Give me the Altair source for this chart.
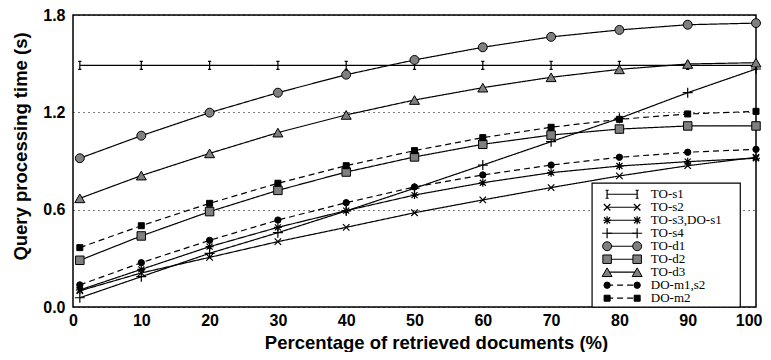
import altair as alt
import pandas as pd

# ---- data ----
x_vals = [1, 10, 20, 30, 40, 50, 60, 70, 80, 90, 100]
series_names = ["TO-s1", "TO-s2", "TO-s3,DO-s1", "TO-s4", "TO-d1", "TO-d2", "TO-d3", "DO-m1,s2", "DO-m2"]
to_s1 = [1.49, 1.49, 1.49, 1.49, 1.49, 1.49, 1.49, 1.49, 1.49, 1.49, 1.49]
to_s2 = [0.10, 0.21, 0.306, 0.403, 0.491, 0.581, 0.66, 0.736, 0.808, 0.871, 0.923]
to_s3 = [0.105, 0.232, 0.372, 0.491, 0.594, 0.69, 0.766, 0.828, 0.869, 0.896, 0.917]
to_s4 = [0.057, 0.187, 0.331, 0.458, 0.592, 0.732, 0.875, 1.019, 1.163, 1.321, 1.467]
to_d1 = [0.917, 1.056, 1.198, 1.321, 1.432, 1.523, 1.601, 1.665, 1.708, 1.74, 1.75]
to_d2 = [0.288, 0.438, 0.588, 0.719, 0.832, 0.925, 1.003, 1.06, 1.097, 1.116, 1.116]
to_d3 = [0.67, 0.81, 0.947, 1.075, 1.184, 1.276, 1.352, 1.416, 1.465, 1.498, 1.506]
do_m1 = [0.136, 0.273, 0.411, 0.536, 0.643, 0.74, 0.814, 0.875, 0.923, 0.954, 0.972]
do_m2 = [0.366, 0.501, 0.639, 0.763, 0.871, 0.964, 1.044, 1.108, 1.157, 1.19, 1.206]
all_values = [to_s1, to_s2, to_s3, to_s4, to_d1, to_d2, to_d3, do_m1, do_m2]

y_ticks = [0.0, 0.6, 1.2, 1.8]
x_ticks = [0, 10, 20, 30, 40, 50, 60, 70, 80, 90, 100]

# ---- styles ----
IBEAM = "M0,-1L0,1M-0.4,-1L0.4,-1M-0.4,1L0.4,1"
XMARK = "M-1,-1L1,1M-1,1L1,-1"
ASTER = "M-1,0L1,0M0,-1L0,1M-0.75,-0.75L0.75,0.75M-0.75,0.75L0.75,-0.75"
PLUS = "M-1,0L1,0M0,-1L0,1"
GREY = "#808080"
styles = {
    "TO-s1": dict(shape=IBEAM, size=64, filled=False, fill=None, dash=[1, 0]),
    "TO-s2": dict(shape=XMARK, size=42, filled=False, fill=None, dash=[1, 0]),
    "TO-s3,DO-s1": dict(shape=ASTER, size=64, filled=False, fill=None, dash=[1, 0]),
    "TO-s4": dict(shape=PLUS, size=100, filled=False, fill=None, dash=[1, 0]),
    "TO-d1": dict(shape="circle", size=80, filled=True, fill=GREY, dash=[1, 0]),
    "TO-d2": dict(shape="square", size=72, filled=True, fill=GREY, dash=[1, 0]),
    "TO-d3": dict(shape="triangle-up", size=100, filled=True, fill=GREY, dash=[1, 0]),
    "DO-m1,s2": dict(shape="circle", size=40, filled=True, fill="black", dash=[6, 4]),
    "DO-m2": dict(shape="square", size=36, filled=True, fill="black", dash=[6, 4]),
}

# legend layout (data units)
LEG_BOX = dict(x=76.0, x2=97.7, y=0.0, y2=0.764)
LEG_SYM_X = (78.2, 82.6)
LEG_TEXT_X = 84.6
LEG_TOP = 0.695
LEG_STEP = 0.0801

FONT = "Liberation Sans"

x_scale = alt.Scale(domain=[0, 100], nice=False)
y_scale = alt.Scale(domain=[0, 1.8], nice=False)
x_axis = alt.Axis(
    values=x_ticks, title="Percentage of retrieved documents (%)", grid=False,
    ticks=False, labelPadding=5, domain=False, labelFlush=False,
    labelAlign={"condition": {"test": "datum.value === 100", "value": "right"}, "value": "center"},
    labelOffset={"condition": {"test": "datum.value === 100", "value": 6}, "value": 0},
    titleX=363, titleY=41, titleBaseline="alphabetic", titleAlign="center",
)
y_axis = alt.Axis(values=y_ticks, format=".1f", title="Query processing time (s)", grid=True,
                  gridDash=[1, 4], gridColor="black", gridWidth=1, gridOpacity=1,
                  ticks=False, labelPadding=8, domain=False,
                  titleX=-46.5, titleY=131, titleBaseline="alphabetic", titleAlign="center")


def X(field="x"):
    return alt.X(f"{field}:Q", scale=x_scale, axis=x_axis)


def Y(field="y"):
    return alt.Y(f"{field}:Q", scale=y_scale, axis=y_axis)


def point_mark(data, st):
    if st["filled"]:
        return alt.Chart(data).mark_point(shape=st["shape"], size=st["size"], filled=True, fill=st["fill"],
                                          stroke="black", strokeWidth=1, opacity=1)
    return alt.Chart(data).mark_point(shape=st["shape"], size=st["size"], filled=False,
                                      stroke="black", strokeWidth=1.2, opacity=1)


layers = []
for name, vals in zip(series_names, all_values):
    st = styles[name]
    df = pd.DataFrame({"x": x_vals, "y": vals, "series": name})
    layers.append(alt.Chart(df).mark_line(color="black", strokeWidth=1.2, strokeDash=st["dash"]).encode(
        x=X(), y=Y()))
for name, vals in zip(series_names, all_values):
    st = styles[name]
    df = pd.DataFrame({"x": x_vals, "y": vals, "series": name})
    layers.append(point_mark(df, st).encode(x=X(), y=Y()))

# legend box
box_df = pd.DataFrame([LEG_BOX])
layers.append(alt.Chart(box_df).mark_rect(fill="white", stroke="black", strokeWidth=1.2).encode(
    x=X("x"), x2="x2", y=Y("y"), y2="y2"))

for i, name in enumerate(series_names):
    st = styles[name]
    yy = LEG_TOP - i * LEG_STEP
    ldf = pd.DataFrame({"x": [LEG_SYM_X[0]], "x2": [LEG_SYM_X[1]], "y": [yy]})
    layers.append(alt.Chart(ldf).mark_rule(color="black", strokeWidth=1.2, strokeDash=st["dash"]).encode(
        x=X("x"), x2="x2", y=Y("y")))
    pdf = pd.DataFrame({"x": list(LEG_SYM_X), "y": [yy, yy]})
    layers.append(point_mark(pdf, st).encode(x=X("x"), y=Y("y")))
    tdf = pd.DataFrame({"x": [LEG_TEXT_X], "y": [yy], "label": [name]})
    layers.append(alt.Chart(tdf).mark_text(align="left", baseline="middle", font="Liberation Serif",
                                           fontSize=13, color="black").encode(
        x=X("x"), y=Y("y"), text="label:N"))

chart = alt.layer(*layers).properties(
    width=683, height=292,
    autosize=alt.AutoSizeParams(type="none"),
    padding={"left": 65, "top": 7, "right": 7, "bottom": 45},
).configure_view(stroke="black", strokeWidth=1.5).configure_axis(
    labelFont=FONT, labelFontSize=16, labelFontWeight="bold", labelColor="black",
    titleFont=FONT, titleFontSize=18.5, titleFontWeight="bold", titleColor="black",
)

chart.save("out.html", embed_options={"renderer": "svg", "actions": False})
